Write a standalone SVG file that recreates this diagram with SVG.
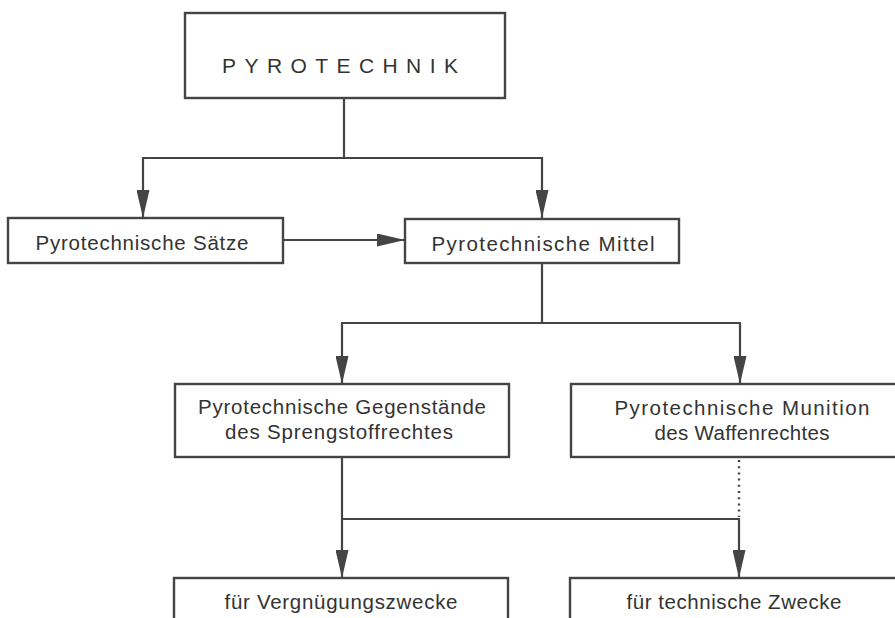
<svg xmlns="http://www.w3.org/2000/svg" width="895" height="618" viewBox="0 0 895 618">
<defs>
<style>
.box{fill:#fff;stroke:#444;stroke-width:2.4}
.t{font-family:"Liberation Sans",Arial,sans-serif;font-size:20.5px;fill:#333;text-anchor:middle}
.title{font-family:"Liberation Sans",Arial,sans-serif;font-size:21px;fill:#333;text-anchor:middle}
.c{fill:none;stroke:#444;stroke-width:2.2}
.d{fill:none;stroke:#444;stroke-width:2.4;stroke-dasharray:2 4.2}
</style>
<marker id="ah" markerUnits="userSpaceOnUse" markerWidth="28" markerHeight="13" refX="28" refY="6.5" orient="auto">
<path d="M0,0 L28,6.5 L0,13 Z" fill="#444"/>
</marker>
</defs>
<rect width="895" height="618" fill="#fff"/>
<g id="connectors">
<path class="c" d="M344,98 V158 H143 V218" marker-end="url(#ah)"/>
<path class="c" d="M344,158 H542 V218" marker-end="url(#ah)"/>
<path class="c" d="M283,240 H405" marker-end="url(#ah)"/>
<path class="c" d="M542,263 V323 H342 V384" marker-end="url(#ah)"/>
<path class="c" d="M542,323 H740 V384" marker-end="url(#ah)"/>
<path class="c" d="M342,457 V519 V578" marker-end="url(#ah)"/>
<path class="c" d="M342,519 H739 V578" marker-end="url(#ah)"/>
<path class="d" d="M739,460 V517"/>
</g>
<g id="pyrotechnik">
<rect class="box" x="185" y="13" width="320" height="85"/>
<text class="title" x="340" y="73" textLength="236" lengthAdjust="spacing">PYROTECHNIK</text>
</g>
<g id="saetze">
<rect class="box" x="8" y="218" width="275" height="45"/>
<text class="t" x="142" y="250" textLength="213" lengthAdjust="spacing">Pyrotechnische Sätze</text>
</g>
<g id="mittel">
<rect class="box" x="405" y="219" width="274" height="44"/>
<text class="t" x="543" y="251" textLength="223" lengthAdjust="spacing">Pyrotechnische Mittel</text>
</g>
<g id="gegenstaende">
<rect class="box" x="175" y="384" width="334" height="73"/>
<text class="t" x="342" y="414" textLength="288" lengthAdjust="spacing">Pyrotechnische Gegenstände</text>
<text class="t" x="339" y="439" textLength="228" lengthAdjust="spacing">des Sprengstoffrechtes</text>
</g>
<g id="munition">
<rect class="box" x="571" y="384" width="340" height="73"/>
<text class="t" x="742" y="415" textLength="255" lengthAdjust="spacing">Pyrotechnische Munition</text>
<text class="t" x="742" y="440" textLength="175" lengthAdjust="spacing">des Waffenrechtes</text>
</g>
<g id="vergnuegung">
<rect class="box" x="174" y="578" width="334" height="60"/>
<text class="t" x="341" y="609" textLength="233" lengthAdjust="spacing">für Vergnügungszwecke</text>
</g>
<g id="technisch">
<rect class="box" x="570" y="578" width="340" height="60"/>
<text class="t" x="734" y="609" textLength="215" lengthAdjust="spacing">für technische Zwecke</text>
</g>
</svg>
